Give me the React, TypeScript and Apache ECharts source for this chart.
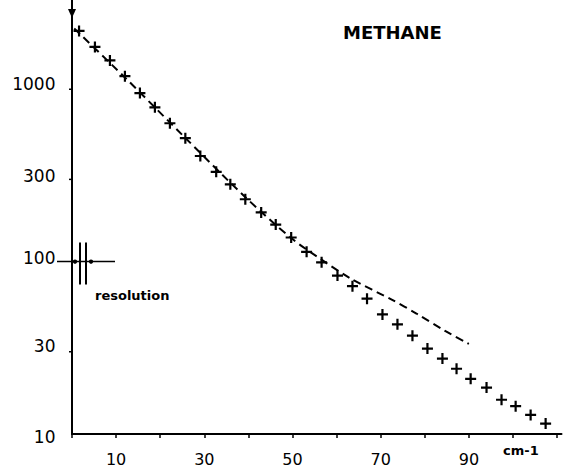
import React, { useEffect, useRef } from "react";
import * as echarts from "echarts";

const crossX = [1.6, 5.2, 8.6, 12.0, 15.4, 18.8, 22.2, 25.7, 29.1, 32.7, 35.9, 39.3, 42.9, 46.2, 49.7, 53.2, 56.6, 60.2, 63.6, 66.9, 70.4, 73.8, 77.2, 80.6, 84.0, 87.2, 90.4, 94.0, 97.4, 100.6, 104.0, 107.4];
const crossY = [2180, 1760, 1470, 1190, 950, 785, 635, 520, 410, 332, 281, 230, 193, 164, 138, 114, 99, 83, 72, 61, 49.4, 43.3, 37.2, 31.3, 27.4, 23.9, 20.9, 18.6, 15.8, 14.5, 12.9, 11.5];

const dashX = [0.5, 12, 25.6, 39.2, 49.7, 56.5, 63.5, 72.6, 78.1, 84.6, 90];
const dashY = [2250, 1170, 525, 238, 137, 103, 79, 60, 50, 39.6, 33.3];

const yTickLabels = [10, 30, 100, 300, 1000];
const yLabelShift = [3, -6, -4, -3, -5];
const xTickLabels = [10, 30, 50, 70, 90];

const FONT = "DejaVu Sans";

export default function App() {
  const ref = useRef<HTMLDivElement>(null);
  useEffect(() => {
    if (!ref.current) return;
    const chart = echarts.init(ref.current, null, { renderer: "svg" });
    const option: any = {
      animation: false,
      backgroundColor: "#ffffff",
      grid: { left: 72, right: 3.5, top: 7, bottom: 29, containLabel: false },
      xAxis: {
        type: "value",
        min: 0,
        max: 111,
        interval: 10,
        splitLine: { show: false },
        axisLine: { show: true, onZero: false, lineStyle: { color: "#000", width: 2 } },
        axisTick: { show: true, length: 4, lineStyle: { color: "#000", width: 1.5 } },
        axisLabel: {
          margin: 17,
          color: "#000",
          fontFamily: FONT,
          fontSize: 16,
          showMaxLabel: false,
          formatter: (v: number) => (xTickLabels.indexOf(v) >= 0 ? String(v) : ""),
        },
      },
      yAxis: {
        type: "log",
        min: 10,
        max: 3000,
        splitLine: { show: false },
        axisLine: { show: true, onZero: false, lineStyle: { color: "#000", width: 2 } },
        axisTick: { show: false },
        axisLabel: { show: false },
        minorTick: { show: false },
      },
      series: [
        {
          type: "line",
          name: "calc",
          data: dashX.map((x, i) => [x, dashY[i]]),
          smooth: 0.3,
          showSymbol: false,
          symbol: "none",
          lineStyle: { color: "#000", width: 2, type: [8, 5] },
          z: 2,
        },
        {
          type: "scatter",
          name: "obs",
          data: crossX.map((x, i) => [x, crossY[i]]),
          symbol: "path://M4,0H6V4H10V6H6V10H4V6H0V4H4Z",
          symbolSize: 11,
          itemStyle: { color: "#000", opacity: 1 },
          z: 3,
        },
        {
          type: "scatter",
          name: "ylabels",
          data: yTickLabels.map((v, i) => ({
            value: [0, v],
            label: { offset: [0, yLabelShift[i]] },
          })),
          symbol: "circle",
          symbolSize: 1,
          itemStyle: { color: "#000", opacity: 1 },
          clip: false,
          silent: true,
          label: {
            show: true,
            position: "left",
            distance: 16,
            color: "#000",
            fontFamily: FONT,
            fontSize: 17,
            formatter: (p: any) => String(p.value[1]),
          },
          z: 1,
        },
      ],
    };
    chart.setOption(option);
    const p = chart.convertToPixel({ gridIndex: 0 }, [0, 100]) as number[];
    const x0 = p[0];
    const y0 = p[1];
    const tickGraphics = yTickLabels
      .filter((v) => v !== 10 && v !== 100)
      .map((v) => {
        const q = chart.convertToPixel({ gridIndex: 0 }, [0, v]) as number[];
        return { type: "line", shape: { x1: q[0] - 3, y1: q[1], x2: q[0], y2: q[1] }, style: { stroke: "#000", lineWidth: 1.5 } };
      });
    chart.setOption({
      graphic: [
        ...tickGraphics,
        { type: "line", shape: { x1: x0, y1: 0, x2: x0, y2: 10 }, style: { stroke: "#000", lineWidth: 2 } },
        { type: "polygon", shape: { points: [[x0 - 4, 9], [x0 + 4, 9], [x0, 18]] }, style: { fill: "#000" } },
        { type: "line", shape: { x1: x0 - 15, y1: y0, x2: x0 + 43, y2: y0 }, style: { stroke: "#000", lineWidth: 1.5 } },
        { type: "line", shape: { x1: x0 + 8, y1: y0 - 19, x2: x0 + 8, y2: y0 + 23 }, style: { stroke: "#000", lineWidth: 2 } },
        { type: "line", shape: { x1: x0 + 14, y1: y0 - 19, x2: x0 + 14, y2: y0 + 23 }, style: { stroke: "#000", lineWidth: 2 } },
        { type: "circle", shape: { cx: x0 + 3, cy: y0, r: 2.2 }, style: { fill: "#000" } },
        { type: "circle", shape: { cx: x0 + 19, cy: y0, r: 2.2 }, style: { fill: "#000" } },
        {
          type: "text",
          x: x0 + 23,
          y: y0 + 34,
          style: { text: "resolution", fill: "#000", font: `bold 13px '${FONT}'`, textVerticalAlign: "middle", textAlign: "left" },
        },
        {
          type: "text",
          x: 503,
          y: 450,
          style: { text: "cm-1", fill: "#000", font: `bold 13px '${FONT}'`, textVerticalAlign: "middle", textAlign: "left" },
        },
        {
          type: "text",
          x: 343,
          y: 32,
          style: { text: "METHANE", fill: "#000", font: `bold 18px '${FONT}'`, textVerticalAlign: "middle", textAlign: "left" },
        },
      ],
    });
    return () => chart.dispose();
  }, []);
  return (
    <div
      ref={ref}
      style={{ position: "fixed", left: 0, top: 0, width: 565, height: 467 }}
    />
  );
}
